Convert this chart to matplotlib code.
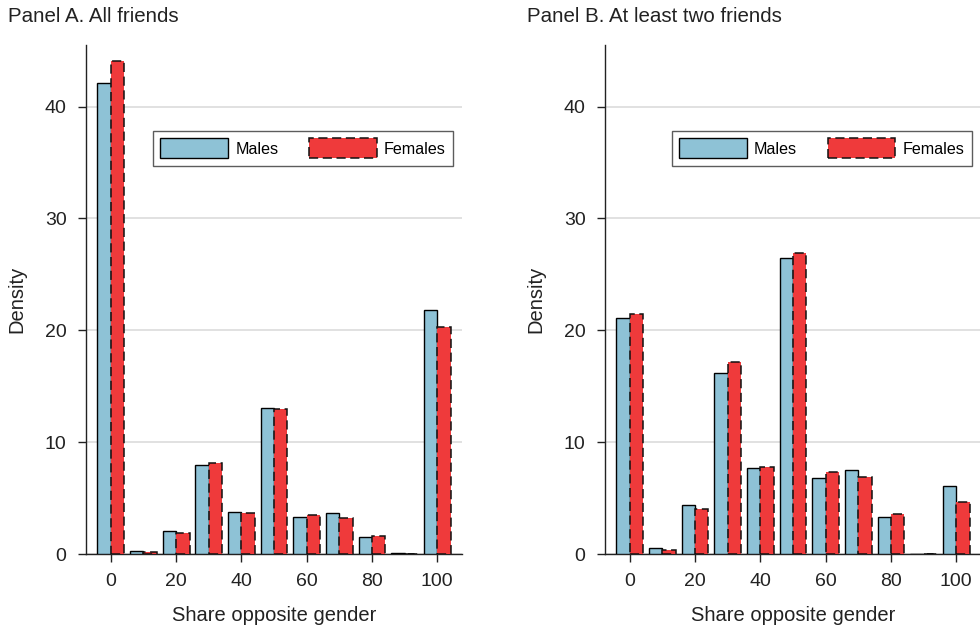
import matplotlib.pyplot as plt
import numpy as np

plt.rcParams['font.family'] = ['Liberation Sans', 'DejaVu Sans']

# share opposite gender bins (percent)
bins = [0, 10, 20, 30, 40, 50, 60, 70, 80, 90, 100]

# Panel A. All friends
males_a = [42.1, 0.27, 2.1, 7.93, 3.73, 13.03, 3.28, 3.7, 1.55, 0.05, 21.8]
females_a = [44.1, 0.15, 1.88, 8.17, 3.7, 12.92, 3.46, 3.25, 1.64, 0.03, 20.3]

# Panel B. At least two friends
males_b = [21.09, 0.54, 4.38, 16.14, 7.68, 26.45, 6.76, 7.54, 3.28, 0.03, 6.05]
females_b = [21.41, 0.36, 3.99, 17.13, 7.77, 26.95, 7.3, 6.85, 3.54, 0.03, 4.62]

titles = ['Panel A. All friends', 'Panel B. At least two friends']

male_col = '#8ec2d6'
female_col = '#ef3a3b'

fig = plt.figure(figsize=(9.8, 6.32), dpi=100)
ax_a = fig.add_axes([0.0878, 0.1234, 0.3837, 0.8054])
ax_b = fig.add_axes([0.6173, 0.1234, 0.3837, 0.8054])

w = 4.1
x = np.array(bins)

for ax, m, f, t in [(ax_a, males_a, females_a, titles[0]),
                    (ax_b, males_b, females_b, titles[1])]:
    ax.bar(x - w / 2, m, width=w, color=male_col, edgecolor='black',
           linewidth=1.0, label='Males', zorder=3)
    ax.bar(x + w / 2, f, width=w, color=female_col, edgecolor='#111111',
           linewidth=1.1, linestyle=(0, (6, 3)), label='Females', zorder=3)
    ax.set_xlim(-7.6, 107.6)
    ax.set_ylim(0, 45.5)
    ax.set_xticks([0, 20, 40, 60, 80, 100])
    ax.set_yticks([0, 10, 20, 30, 40])
    ax.grid(axis='y', color='#dcdcdc', linewidth=1.2, zorder=0)
    for s in ['top', 'right']:
        ax.spines[s].set_visible(False)
    for s in ['left', 'bottom']:
        ax.spines[s].set_linewidth(1.0)
        ax.spines[s].set_color('#222222')
    ax.tick_params(axis='both', direction='out', length=6, width=1.0,
                   labelsize=14, colors='#222222', labelcolor='#222222')
    ax.tick_params(axis='y', pad=8)
    ax.tick_params(axis='x', pad=8)
    ax.set_ylabel('Density', fontsize=14.5, color='#222222', labelpad=13)
    ax.set_xlabel('Share opposite gender', fontsize=14.5, color='#222222',
                  labelpad=11)
    ax.text(-0.208, 1.046, t, transform=ax.transAxes, fontsize=14.8,
            color='#222222', ha='left', va='baseline')
    leg = ax.legend(loc='upper left', bbox_to_anchor=(0.178, 0.831), ncol=2,
                    fontsize=11.6, frameon=True, fancybox=False,
                    edgecolor='#333333', handlelength=4.2, handleheight=1.55,
                    columnspacing=1.9, handletextpad=0.45, borderpad=0.45,
                    borderaxespad=0)
    leg.get_frame().set_linewidth(1.0)

fig.savefig('out.png', dpi=100)
